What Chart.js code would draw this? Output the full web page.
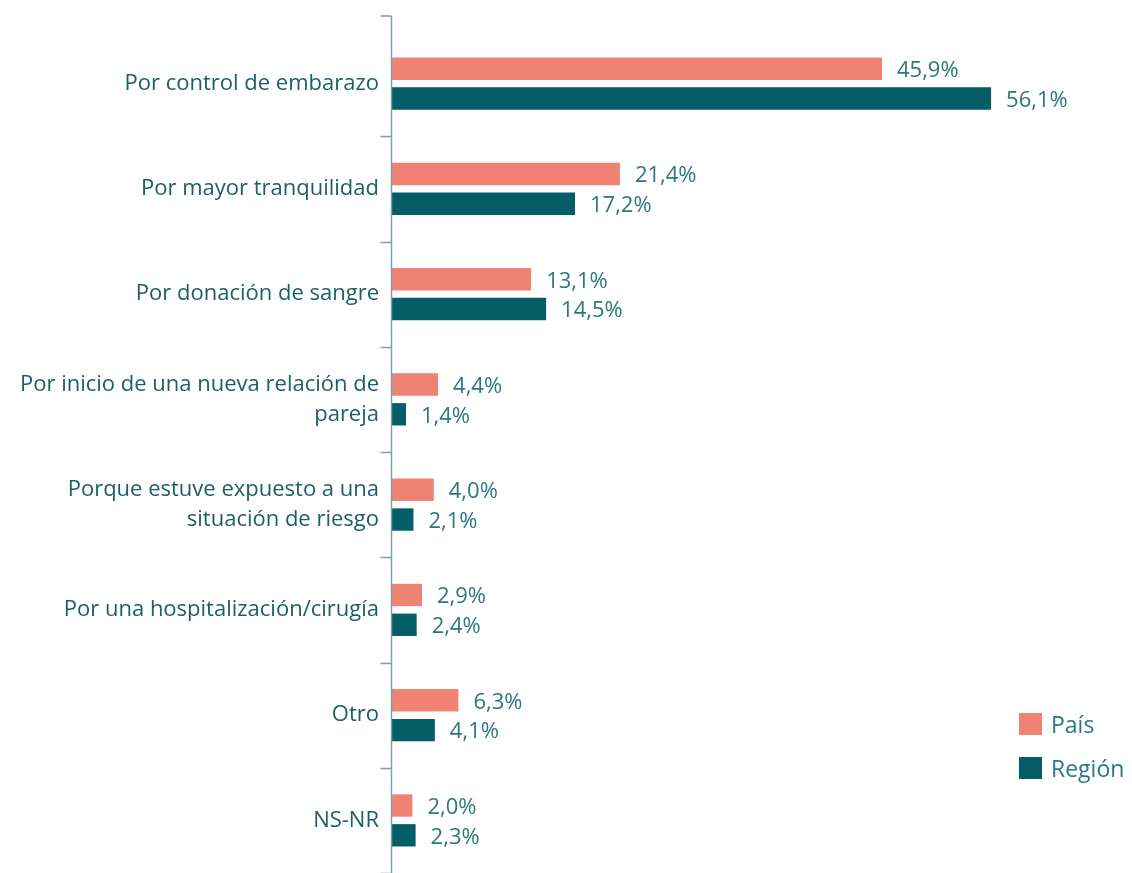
<!DOCTYPE html>
<html lang="es">
<head>
    <meta charset="UTF-8">
    <title>Motivos de la prueba</title>
    <script src="https://cdn.jsdelivr.net/npm/chart.js"></script>
    <style>
        html, body { margin: 0; padding: 0; background: #fff; overflow: hidden; }
        #wrap { width: 1132px; height: 900px; }
    </style>
</head>
<body>
    <div id="wrap">
        <canvas id="chart" width="1132" height="900"></canvas>
    </div>
    <script>
        const categories = [
            "Por control de embarazo",
            "Por mayor tranquilidad",
            "Por donación de sangre",
            ["Por inicio de una nueva relación de", "pareja"],
            ["Porque estuve expuesto a una", "situación de riesgo"],
            "Por una hospitalización/cirugía",
            "Otro",
            "NS-NR"
        ];
        const pais = [45.9, 21.4, 13.1, 4.4, 4.0, 2.9, 6.3, 2.0];
        const region = [56.1, 17.2, 14.5, 1.4, 2.1, 2.4, 4.1, 2.3];
        const seriesNames = ["País", "Región"];

        const colPais = '#F08274';
        const colRegion = '#055D67';
        const labelColor = '#1B5F68';
        const valueColor = '#2C7880';
        const axisColor = '#7BA3A8';
        const fontFam = '"Open Sans", "Noto Sans", sans-serif';

        function fmt(v) {
            return v.toFixed(1).replace('.', ',') + '%';
        }

        // axis line with ticks between categories
        const axisPlugin = {
            id: 'axisLine',
            afterDraw(chart) {
                const ctx = chart.ctx;
                const area = chart.chartArea;
                const x0 = Math.round(area.left) + 0.5;
                ctx.save();
                ctx.strokeStyle = axisColor;
                ctx.lineWidth = 1.5;
                ctx.beginPath();
                ctx.moveTo(x0, 16);
                ctx.lineTo(x0, chart.height);
                ctx.moveTo(x0 - 11, 16);
                ctx.lineTo(x0, 16);
                const step = (area.bottom - area.top) / categories.length;
                for (let i = 1; i <= categories.length; i++) {
                    const ty = Math.round(area.top + step * i) + 0.5;
                    ctx.moveTo(x0 - 11, ty);
                    ctx.lineTo(x0, ty);
                }
                ctx.stroke();
                ctx.restore();
            }
        };

        // value labels at bar ends
        const valuePlugin = {
            id: 'values',
            afterDatasetsDraw(chart) {
                const ctx = chart.ctx;
                ctx.save();
                ctx.font = '22px ' + fontFam;
                ctx.fillStyle = valueColor;
                ctx.textBaseline = 'middle';
                ctx.textAlign = 'left';
                chart.data.datasets.forEach((ds, di) => {
                    chart.getDatasetMeta(di).data.forEach((bar, i) => {
                        ctx.fillText(fmt(ds.data[i]), bar.x + 15, bar.y + 2);
                    });
                });
                ctx.restore();
            }
        };

        // legend bottom right
        const legendPlugin = {
            id: 'sideLegend',
            afterDraw(chart) {
                const ctx = chart.ctx;
                ctx.save();
                ctx.font = '23px ' + fontFam;
                ctx.textBaseline = 'middle';
                chart.data.datasets.forEach((ds, i) => {
                    const y = 724 + i * 44;
                    ctx.fillStyle = ds.backgroundColor;
                    ctx.fillRect(1019, y - 11, 23, 22);
                    ctx.fillStyle = valueColor;
                    ctx.fillText(ds.label, 1051, y + 2);
                });
                ctx.restore();
            }
        };

        new Chart(document.getElementById('chart'), {
            type: 'bar',
            data: {
                labels: categories,
                datasets: [
                    { label: seriesNames[0], data: pais, backgroundColor: colPais },
                    { label: seriesNames[1], data: region, backgroundColor: colRegion }
                ]
            },
            options: {
                indexAxis: 'y',
                responsive: false,
                animation: false,
                categoryPercentage: 0.566,
                barPercentage: 0.75,
                layout: { padding: { top: 31, bottom: 21, left: 0, right: 35 } },
                plugins: {
                    legend: { display: false },
                    tooltip: { enabled: false }
                },
                scales: {
                    x: {
                        display: false,
                        min: 0,
                        max: 66.0
                    },
                    y: {
                        grid: { display: false, tickLength: 0 },
                        border: { display: false },
                        ticks: {
                            color: labelColor,
                            font: { size: 22, family: fontFam, lineHeight: 1.36 },
                            padding: 12
                        },
                        afterFit(scale) { scale.width = 391; }
                    }
                }
            },
            plugins: [axisPlugin, valuePlugin, legendPlugin]
        });
    </script>
</body>
</html>
